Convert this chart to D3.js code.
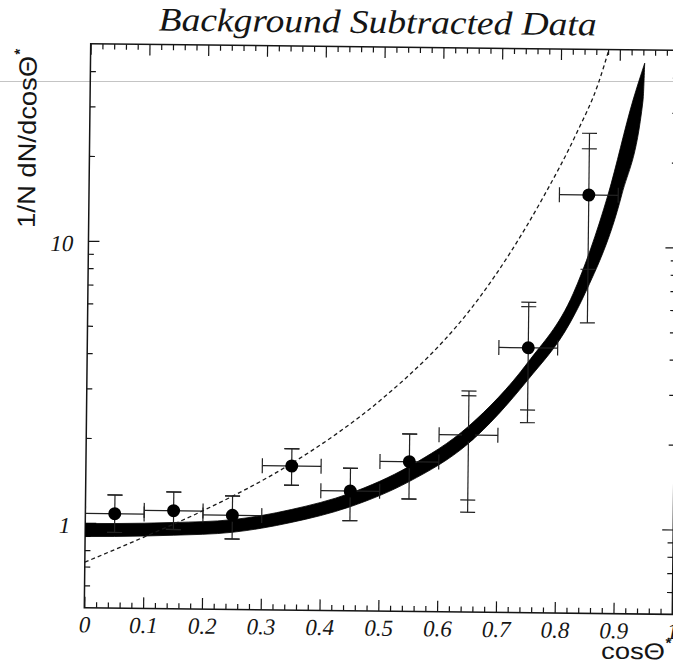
<!DOCTYPE html>
<html>
<head>
<meta charset="utf-8">
<script src="https://cdn.jsdelivr.net/npm/d3@7"></script>
<style>
  html, body { margin: 0; padding: 0; background: #fff; }
  svg { display: block; }
</style>
</head>
<body>
<svg id="chart" width="673" height="671"></svg>
<script>
// Background-subtracted cos(theta*) distribution, per bin
const binCentres   = [0.05, 0.15, 0.25, 0.35, 0.45, 0.55, 0.65, 0.75, 0.85];
const binHalfWidth = 0.05;
const yieldValues  = [1.080, 1.113, 1.078, 1.621, 1.329, 1.697, 2.122, 4.35, 15.23];
const statLow      = [0.927, 0.955, 0.888, 1.385, 1.043, 1.252, 1.248, 2.617, 8.30];
const statHigh     = [1.259, 1.297, 1.262, 1.867, 1.600, 2.128, 2.925, 6.085, 22.2];
const totalLow     = [0.927, 0.955, 0.888, 1.385, 1.043, 1.252, 1.129, 2.36, 5.36];
const totalHigh    = [1.259, 1.297, 1.262, 1.867, 1.600, 2.128, 3.04, 6.31, 25.2];

// Prediction band: upper and lower edges
const bandUpperX = [0, 0.05, 0.15, 0.25, 0.35, 0.45, 0.55, 0.65, 0.75, 0.8256, 0.8827, 0.9234, 0.9425];
const bandUpperY = [0.995, 0.997, 1.011, 1.040, 1.136, 1.305, 1.634, 2.28, 3.87, 6.82, 15.3, 33.2, 44.9];
const bandLowerX = [0, 0.05, 0.15, 0.25, 0.35, 0.45, 0.55, 0.65, 0.75, 0.8205, 0.8455, 0.906, 0.9404, 0.9425];
const bandLowerY = [0.894, 0.897, 0.911, 0.938, 1.022, 1.168, 1.443, 1.98, 3.35, 5.35, 6.82, 15.3, 33.2, 44.9];

// Alternative expectation (dashed curve)
const altX = [0, 0.1, 0.2, 0.35, 0.43, 0.5, 0.667, 0.717, 0.773, 0.828, 0.864, 0.882];
const altY = [0.725, 0.895, 1.116, 1.657, 2.15, 2.8, 6.57, 9.4, 14.96, 25.2, 37.9, 50.5];

// Axes
const xDomain     = [0, 1];
const yDomain     = [0.5, 50];
const xMajorTicks = [0, 0.1, 0.2, 0.3, 0.4, 0.5, 0.6, 0.7, 0.8, 0.9, 1.0];
const xTickLabels = ["0", "0.1", "0.2", "0.3", "0.4", "0.5", "0.6", "0.7", "0.8", "0.9", "1"];
const xMinorTicks = d3.range(0, 50).map(i => i * 0.02).filter((d, i) => i % 5 !== 0);
const yMajorTicks = [1, 10];
const yTickLabels = ["1", "10"];
const yMinorTicks = [0.6, 0.7, 0.8, 0.9, 2, 3, 4, 5, 6, 7, 8, 9, 20, 30, 40];

const titleText = "Background Subtracted Data";
const yTitle = "1/N dN/dcos\u0398";
const xTitle = "cos\u0398";

// ---- layout ----
const frame = { left: 84.3, top: 43.7, width: 588, height: 564 };
const fBottom = frame.top + frame.height;
const fRight = frame.left + frame.width;
const tilt = 0.65; // the printed page sits slightly rotated

const serif = "'Liberation Serif', 'Times New Roman', Times, serif";
const sans = "'Liberation Sans', Arial, Helvetica, sans-serif";
const ink = "#151515";

const svg = d3.select("#chart");

// faint scanner streak across the page
svg.append("line")
  .attr("x1", 0).attr("x2", 673).attr("y1", 81.5).attr("y2", 81.5)
  .attr("stroke", "#c4c4c4").attr("stroke-width", 1);

const fig = svg.append("g")
  .attr("transform", `rotate(${tilt}, ${frame.left}, ${fBottom})`);

const x = d3.scaleLinear().domain(xDomain).range([frame.left, fRight]);
const y = d3.scaleLog().domain(yDomain).range([fBottom, frame.top]);

fig.append("clipPath").attr("id", "plotClip")
  .append("rect")
  .attr("x", frame.left).attr("y", frame.top)
  .attr("width", frame.width).attr("height", frame.height);

function tidy(g) {
  g.select(".domain").remove();
  g.selectAll(".tick line").attr("stroke", ink).attr("stroke-width", 1.2);
}

// bottom axis
fig.append("g")
  .attr("transform", `translate(0,${fBottom})`)
  .call(d3.axisBottom(x).tickValues(xMinorTicks).tickSize(-5.5).tickFormat(""))
  .call(tidy);
const xAxisG = fig.append("g")
  .attr("transform", `translate(0,${fBottom})`)
  .call(d3.axisBottom(x).tickValues(xMajorTicks).tickSize(-11).tickPadding(0)
    .tickFormat((d, i) => xTickLabels[i]))
  .call(tidy);
xAxisG.selectAll("text")
  .attr("y", 24.7).attr("dy", 0)
  .attr("font-family", serif).attr("font-style", "italic")
  .attr("font-size", 23).attr("fill", ink);

// top axis
fig.append("g")
  .attr("transform", `translate(0,${frame.top})`)
  .call(d3.axisTop(x).tickValues(xMinorTicks).tickSize(-5.5).tickFormat(""))
  .call(tidy);
fig.append("g")
  .attr("transform", `translate(0,${frame.top})`)
  .call(d3.axisTop(x).tickValues(xMajorTicks).tickSize(-11).tickFormat(""))
  .call(tidy);

// left axis
fig.append("g")
  .attr("transform", `translate(${frame.left},0)`)
  .call(d3.axisLeft(y).tickValues(yMinorTicks).tickSize(-5.5).tickFormat(""))
  .call(tidy);
const yAxisG = fig.append("g")
  .attr("transform", `translate(${frame.left},0)`)
  .call(d3.axisLeft(y).tickValues(yMajorTicks).tickSize(-11).tickPadding(0)
    .tickFormat((d, i) => yTickLabels[i]))
  .call(tidy);
yAxisG.selectAll("text")
  .attr("x", -15).attr("y", 10).attr("dy", 0)
  .attr("font-family", serif).attr("font-style", "italic")
  .attr("font-size", 23).attr("fill", ink);

// right axis
fig.append("g")
  .attr("transform", `translate(${fRight},0)`)
  .call(d3.axisRight(y).tickValues(yMinorTicks).tickSize(-5.5).tickFormat(""))
  .call(tidy);
fig.append("g")
  .attr("transform", `translate(${fRight},0)`)
  .call(d3.axisRight(y).tickValues(yMajorTicks).tickSize(-11).tickFormat(""))
  .call(tidy);

// frame
fig.append("rect")
  .attr("x", frame.left).attr("y", frame.top)
  .attr("width", frame.width).attr("height", frame.height)
  .attr("fill", "none").attr("stroke", ink).attr("stroke-width", 1.5);

const plot = fig.append("g").attr("clip-path", "url(#plotClip)");

// prediction band
const edge = d3.line().x(d => x(d[0])).y(d => y(d[1])).curve(d3.curveMonotoneX);
const upperPts = bandUpperX.map((v, i) => [v, bandUpperY[i]]);
const lowerPts = bandLowerX.map((v, i) => [v, bandLowerY[i]]).reverse();
const bandPath = edge(upperPts) + edge(lowerPts).replace(/^M/, "L") + "Z";
plot.append("path")
  .attr("d", bandPath)
  .attr("fill", "#000").attr("stroke", "#000").attr("stroke-width", 0.8);

// dashed alternative
plot.append("path")
  .datum(altX.map((v, i) => [v, altY[i]]))
  .attr("d", d3.line().x(d => x(d[0])).y(d => y(d[1])).curve(d3.curveMonotoneX))
  .attr("fill", "none").attr("stroke", "#1a1a1a")
  .attr("stroke-width", 1.3).attr("stroke-dasharray", "4,3");

// data points with error bars
const cap = 7.5;
const bars = plot.append("g").attr("stroke", "#222").attr("stroke-width", 1.2);
binCentres.forEach((c, i) => {
  const cx = x(c), cy = y(yieldValues[i]);
  // vertical error
  bars.append("line").attr("x1", cx).attr("x2", cx)
    .attr("y1", y(totalLow[i])).attr("y2", y(totalHigh[i]));
  [statLow[i], statHigh[i], totalLow[i], totalHigh[i]].forEach(v => {
    bars.append("line").attr("x1", cx - cap).attr("x2", cx + cap)
      .attr("y1", y(v)).attr("y2", y(v));
  });
  // bin width
  const xl = x(c - binHalfWidth), xr = x(c + binHalfWidth);
  bars.append("line").attr("x1", xl).attr("x2", xr).attr("y1", cy).attr("y2", cy);
  [xl, xr].forEach(px => {
    bars.append("line").attr("x1", px).attr("x2", px)
      .attr("y1", cy - cap).attr("y2", cy + cap);
  });
});
plot.selectAll("circle.pt")
  .data(binCentres)
  .join("circle").attr("class", "pt")
  .attr("cx", d => x(d))
  .attr("cy", (d, i) => y(yieldValues[i]))
  .attr("r", 6.5)
  .attr("fill", "#000");

// titles
fig.append("text")
  .attr("x", 152).attr("y", 29.7)
  .attr("font-family", serif).attr("font-style", "italic")
  .attr("font-size", 33).attr("fill", ink)
  .attr("textLength", 438).attr("lengthAdjust", "spacingAndGlyphs")
  .text(titleText);

// vertical axis title
const ytG = fig.append("g").attr("transform", "translate(30.5,228.5) rotate(-90)");
ytG.append("text")
  .attr("x", 0).attr("y", 0)
  .attr("font-family", sans).attr("font-size", 25).attr("fill", ink)
  .attr("textLength", 172).attr("lengthAdjust", "spacingAndGlyphs")
  .text(yTitle);
ytG.append("text")
  .attr("x", 173).attr("y", -12)
  .attr("font-family", sans).attr("font-size", 15).attr("font-weight", "bold").attr("fill", ink)
  .text("*");

// horizontal axis title
fig.append("text")
  .attr("x", 601.5).attr("y", 652.8)
  .attr("font-family", sans).attr("font-size", 23).attr("fill", ink)
  .attr("textLength", 64).attr("lengthAdjust", "spacingAndGlyphs")
  .text(xTitle);
fig.append("text")
  .attr("x", 666).attr("y", 641.5)
  .attr("font-family", sans).attr("font-size", 15).attr("font-weight", "bold").attr("fill", ink)
  .text("*");
</script>
</body>
</html>
